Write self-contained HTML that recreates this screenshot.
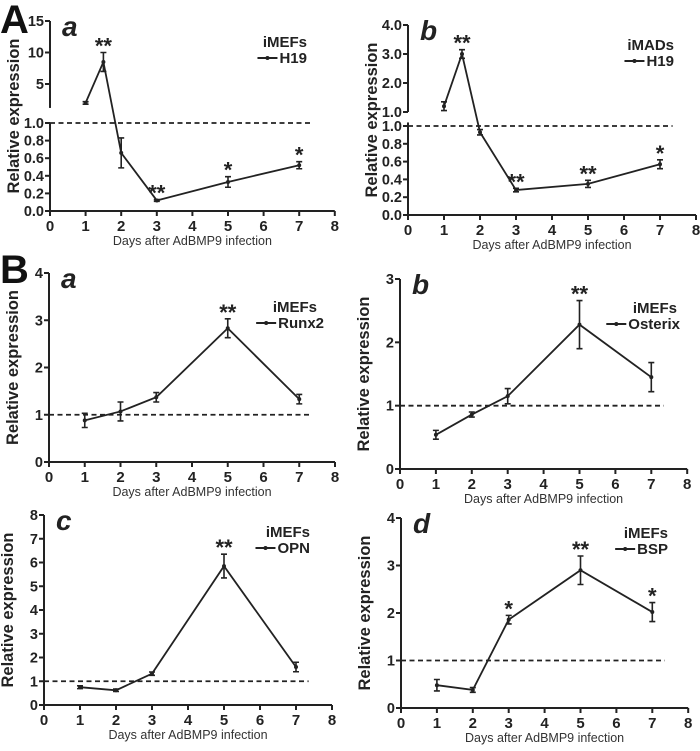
<!DOCTYPE html>
<html><head><meta charset="utf-8"><style>
body{margin:0;background:#fff}
svg{display:block;font-family:"Liberation Sans",Arial,sans-serif}
</style></head><body>
<svg id="fig" width="700" height="751" viewBox="0 0 700 751"></svg>
<script>
const days = [1,1.5,2,3,5,7];
const daysB = [1,2,3,5,7];
const aaVals = [2.0,8.5,0.66,0.12,0.33,0.52];
const aaErr = [0.2,1.5,0.17,0.01,0.06,0.04];
const aaStars = ["","**","","**","*","*"];
const abVals = [1.2,3.0,0.93,0.28,0.35,0.57];
const abErr = [0.15,0.15,0.03,0.02,0.04,0.05];
const abStars = ["","**","","**","**","*"];
const baVals = [0.88,1.07,1.37,2.83,1.33];
const baErr = [0.15,0.2,0.1,0.2,0.1];
const baStars = ["","","","**",""];
const bbVals = [0.54,0.86,1.15,2.28,1.45];
const bbErr = [0.07,0.04,0.12,0.38,0.23];
const bbStars = ["","","","**",""];
const bcVals = [0.75,0.62,1.32,5.85,1.6];
const bcErr = [0.06,0.05,0.07,0.5,0.2];
const bcStars = ["","","","**",""];
const bdVals = [0.48,0.38,1.86,2.9,2.02];
const bdErr = [0.12,0.05,0.09,0.3,0.2];
const bdStars = ["","","*","**","*"];
const xTicks = [0,1,2,3,4,5,6,7,8];

const NS="http://www.w3.org/2000/svg";
const svg=document.getElementById('fig');
function mk(tag,attrs,parent,text){const e=document.createElementNS(NS,tag);for(const k in attrs)e.setAttribute(k,attrs[k]);if(text!==undefined)e.textContent=text;(parent||svg).appendChild(e);return e;}

function panel(cfg){
  const g=mk('g',{});
  
  
  const ax=cfg.ax, xs=cfg.xs;
  const X=d=>ax+d*xs;
  const segs=cfg.segs;
  const segFor=v=>(segs.length>1&&v>1.05)?segs[1]:segs[0];
  const Y=(v,s)=>{s=s||segFor(v);return s.y1+(v-s.v1)*(s.y2-s.y1)/(s.v2-s.v1);};
  const y0=Y(0,segs[0]);
  segs.forEach((s,i)=>{
    const ya=mk('line',{x1:ax,x2:ax,y1:Y(s.a,s),y2:Y(s.b,s),stroke:'#222','stroke-width':2},g);
    
    
    s.ticks.forEach(t=>{
      const yy=Y(t,s);
      mk('line',{x1:ax-5,x2:ax,y1:yy,y2:yy,stroke:'#222','stroke-width':2},g);
      const tl=mk('text',{x:ax-6,y:yy+5,'text-anchor':'end','font-size':14.5,'font-weight':'bold',fill:'#222'},g,s.fmt(t));
      
      
    });
  });
  const xa=mk('line',{x1:ax,x2:X(8),y1:y0,y2:y0,stroke:'#222','stroke-width':2},g);
  
  
  xTicks.forEach(t=>{
    mk('line',{x1:X(t),x2:X(t),y1:y0,y2:y0+5,stroke:'#222','stroke-width':2},g);
    const tl=mk('text',{x:X(t),y:y0+20,'text-anchor':'middle','font-size':15,'font-weight':'bold',fill:'#222'},g,String(t));
    
    
  });
  const xt=mk('text',{x:X(4),y:y0+34,'text-anchor':'middle','font-size':12.5,fill:'#333'},g,'Days after AdBMP9 infection');
  
  
  const ymid=(Y(0,segs[0])+cfg.top)/2;
  const yt=mk('text',{x:0,y:0,transform:`translate(${ax-31},${ymid}) rotate(-90)`,'text-anchor':'middle','font-size':16.5,'font-weight':'bold',fill:'#222'},g,'Relative expression');
  
  
  const dl=mk('line',{x1:ax,x2:X(7.35),y1:Y(1,segs[0]),y2:Y(1,segs[0]),stroke:'#222','stroke-width':1.8,'stroke-dasharray':'5,3.5'},g);
  
  
  const pts=cfg.x.map((d,i)=>[X(d),Y(cfg.v[i])]);
  const pl=mk('polyline',{points:pts.map(p=>p.join(',')).join(' '),fill:'none',stroke:'#222','stroke-width':1.8},g);
  
  
  cfg.x.forEach((d,i)=>{
    const s=segFor(cfg.v[i]);
    const xx=X(d), yh=Y(cfg.v[i]+cfg.e[i],s), yl=Y(cfg.v[i]-cfg.e[i],s);
    const eb=mk('path',{d:`M${xx},${yh}V${yl}M${xx-3},${yh}H${xx+3}M${xx-3},${yl}H${xx+3}`,stroke:'#222','stroke-width':1.6,fill:'none'},g);
    
    
    const pt=mk('circle',{cx:xx,cy:Y(cfg.v[i]),r:2,fill:'#222'},g);
    
    
    if(cfg.stars[i]){
      const st=mk('text',{x:xx,y:Math.min(yh,Y(cfg.v[i]))+1,'text-anchor':'middle','font-size':22,'font-weight':'bold',fill:'#222'},g,cfg.stars[i]);
      
      
    }
  });
  const sl=mk('text',{x:ax+12,y:cfg.top+15,'font-size':28,'font-weight':'bold','font-style':'italic',fill:'#222'},g,cfg.letter);
  
  
  const lx=cfg.legX, ly=cfg.legY;
  const l1=mk('text',{x:lx,y:ly,'text-anchor':'end','font-size':15,'font-weight':'bold',fill:'#222'},g,cfg.cell);
  
  
  const lt=mk('text',{x:lx+(cfg.geneOff||0),y:ly+16,'text-anchor':'end','font-size':15,'font-weight':'bold',fill:'#222'},g,cfg.gene);
  
  
  const w=lt.getComputedTextLength();
  const gx=lx+(cfg.geneOff||0)-w-2;
  const ll=mk('line',{x1:gx-20,x2:gx,y1:ly+11,y2:ly+11,stroke:'#222','stroke-width':2},g);
  
  
  const lp=mk('circle',{cx:gx-10,cy:ly+11,r:2,fill:'#222'},g);
  
  
}
const f1=t=>t.toFixed(1), f0=t=>String(t);
panel({name:'panel-a-a',ax:50,xs:35.6,top:21,x:days,v:aaVals,e:aaErr,stars:aaStars,letter:'a',cell:'iMEFs',gene:'H19',legX:307,legY:47,
  segs:[{v1:0,y1:211,v2:1,y2:123,a:0,b:1,ticks:[0,0.2,0.4,0.6,0.8,1.0],fmt:f1},{v1:5,y1:84,v2:15,y2:21,a:1.2,b:15,ticks:[5,10,15],fmt:f0}]});
panel({name:'panel-a-b',ax:408,xs:36,top:25,x:days,v:abVals,e:abErr,stars:abStars,letter:'b',cell:'iMADs',gene:'H19',legX:674,legY:50,
  segs:[{v1:0,y1:215,v2:1,y2:126,a:0,b:1.04,ticks:[0,0.2,0.4,0.6,0.8,1.0],fmt:f1},{v1:1,y1:112,v2:4,y2:25,a:1,b:4,ticks:[1,2,3,4],fmt:f1}]});
panel({name:'panel-b-a',ax:49,xs:35.75,top:273,x:daysB,v:baVals,e:baErr,stars:baStars,letter:'a',cell:'iMEFs',gene:'Runx2',legX:317,legY:312,geneOff:7,
  segs:[{v1:0,y1:462,v2:4,y2:273,a:0,b:4,ticks:[0,1,2,3,4],fmt:f0}]});
panel({name:'panel-b-b',ax:400,xs:35.9,top:279,x:daysB,v:bbVals,e:bbErr,stars:bbStars,letter:'b',cell:'iMEFs',gene:'Osterix',legX:677,legY:313,geneOff:3,
  segs:[{v1:0,y1:469,v2:3,y2:279,a:0,b:3,ticks:[0,1,2,3],fmt:f0}]});
panel({name:'panel-b-c',ax:44,xs:36,top:515,x:daysB,v:bcVals,e:bcErr,stars:bcStars,letter:'c',cell:'iMEFs',gene:'OPN',legX:310,legY:537,
  segs:[{v1:0,y1:705,v2:8,y2:515,a:0,b:8,ticks:[0,1,2,3,4,5,6,7,8],fmt:f0}]});
panel({name:'panel-b-d',ax:401,xs:35.9,top:518,x:daysB,v:bdVals,e:bdErr,stars:bdStars,letter:'d',cell:'iMEFs',gene:'BSP',legX:668,legY:538,
  segs:[{v1:0,y1:708,v2:4,y2:518,a:0,b:4,ticks:[0,1,2,3,4],fmt:f0}]});
const A=mk('text',{x:0,y:33,'font-size':40,'font-weight':'bold',fill:'#111'},svg,'A');


const B=mk('text',{x:0,y:283,'font-size':40,'font-weight':'bold',fill:'#111'},svg,'B');


</script>
</body></html>
